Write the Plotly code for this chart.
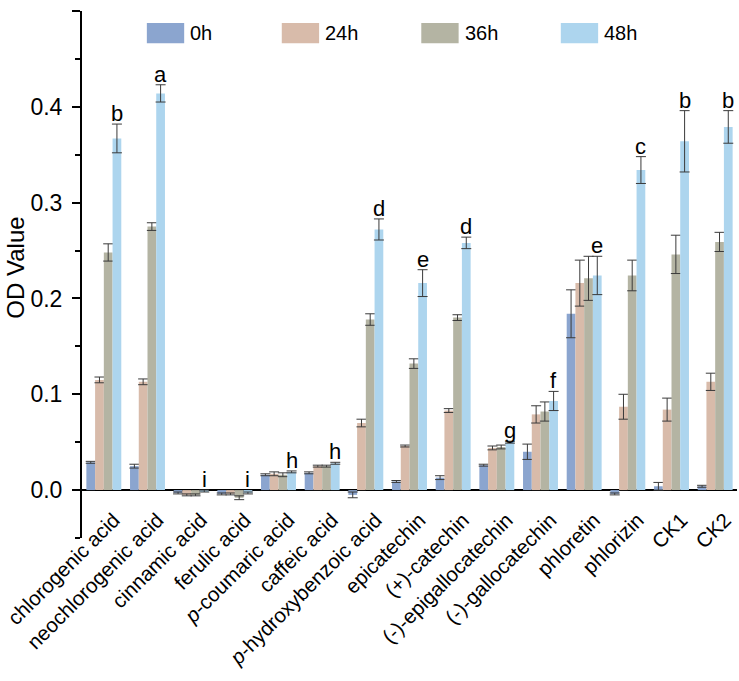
import plotly.graph_objects as go

categories = ["chlorogenic acid", "neochlorogenic acid", "cinnamic acid", "ferulic acid",
              "<i>p</i>-coumaric acid", "caffeic acid", "<i>p</i>-hydroxybenzoic acid",
              "epicatechin", "(+)-catechin", "(-)-epigallocatechin", "(-)-gallocatechin",
              "phloretin", "phlorizin", "CK1", "CK2"]

series_names = ["0h", "24h", "36h", "48h"]

v0h = [0.029, 0.025, -0.003, -0.004, 0.016, 0.018, -0.005, 0.009, 0.013, 0.026, 0.040, 0.184, -0.004, 0.004, 0.004]
e0h = [0.001, 0.002, 0.001, 0.001, 0.001, 0.001, 0.003, 0.001, 0.002, 0.001, 0.008, 0.025, 0.001, 0.004, 0.001]

v24h = [0.115, 0.113, -0.005, -0.004, 0.017, 0.025, 0.070, 0.046, 0.083, 0.044, 0.079, 0.216, 0.087, 0.084, 0.113]
e24h = [0.003, 0.003, 0.001, 0.001, 0.002, 0.001, 0.004, 0.001, 0.002, 0.002, 0.009, 0.024, 0.013, 0.012, 0.009]

v36h = [0.248, 0.275, -0.005, -0.008, 0.016, 0.025, 0.178, 0.132, 0.180, 0.045, 0.082, 0.221, 0.224, 0.246, 0.259]
e36h = [0.009, 0.004, 0.001, 0.002, 0.002, 0.001, 0.006, 0.005, 0.003, 0.002, 0.010, 0.023, 0.016, 0.020, 0.010]

v48h = [0.367, 0.414, -0.001, -0.003, 0.019, 0.028, 0.272, 0.216, 0.258, 0.050, 0.093, 0.224, 0.334, 0.364, 0.379]
e48h = [0.015, 0.009, 0.001, 0.001, 0.001, 0.001, 0.011, 0.014, 0.006, 0.001, 0.010, 0.020, 0.014, 0.032, 0.017]

letters = ["b", "a", "i", "i", "h", "h", "d", "e", "d", "g", "f", "e", "c", "b", "b"]

colors = ["#8BA5CF", "#D8BBAA", "#B4B4A3", "#ADD5EE"]

FONT = "Arial, Liberation Sans, sans-serif"
Y_RANGE = [-0.05, 0.5]

values = [v0h, v24h, v36h, v48h]
errors = [e0h, e24h, e36h, e48h]

fig = go.Figure()
for name, vals, errs, col in zip(series_names, values, errors, colors):
    fig.add_trace(go.Bar(
        x=categories, y=vals, name=name,
        marker=dict(color=col, line=dict(width=0)),
        error_y=dict(type="data", array=errs, visible=True, color="#3a3a3a",
                     thickness=1, width=5),
        showlegend=False,
    ))

# significance letters above the 48h bars
for i, (lab, v, e) in enumerate(zip(letters, v48h, e48h)):
    top = max(v + e, 0.0)
    fig.add_annotation(x=i + 0.3, y=top, xref="x", yref="y", text=lab,
                       showarrow=False, yanchor="bottom", yshift=-4,
                       font=dict(family=FONT, size=22, color="black"))

# custom legend
leg_x = [0.099, 0.305, 0.518, 0.731]
sw_w = 0.057
for name, col, lx in zip(series_names, colors, leg_x):
    fig.add_shape(type="rect", xref="paper", yref="paper",
                  x0=lx, x1=lx + sw_w, y0=0.939, y1=0.977,
                  fillcolor=col, line=dict(width=0))
    fig.add_annotation(xref="paper", yref="paper", x=lx + sw_w + 0.006, y=0.958,
                       text=name, showarrow=False, xanchor="left", yanchor="middle",
                       font=dict(family=FONT, size=20, color="black"))

# y-axis title
fig.add_annotation(xref="paper", yref="paper", x=-0.1015, y=0.512, text="OD Value",
                   textangle=-90, showarrow=False, xanchor="center", yanchor="middle",
                   borderpad=0, font=dict(family=FONT, size=24, color="black"))

zero_pos = (0 - Y_RANGE[0]) / (Y_RANGE[1] - Y_RANGE[0])

fig.update_layout(
    width=739, height=681,
    margin=dict(l=82, r=2, t=11, b=143),
    paper_bgcolor="white", plot_bgcolor="white",
    barmode="group", bargap=0.2, bargroupgap=0.0,
    font=dict(family=FONT, size=20, color="black"),
    xaxis=dict(
        type="category", tickangle=-45, showline=False, ticks="",
        showgrid=False, automargin=False, anchor="free", position=zero_pos,
        ticklabelshift=10, ticklabelstandoff=13,
        tickfont=dict(family=FONT, size=20.5, color="black"),
    ),
    yaxis=dict(
        range=Y_RANGE, tickmode="linear", tick0=0, dtick=0.1, tickformat=".1f",
        showline=True, linecolor="black", linewidth=2, automargin=False,
        ticks="outside", ticklen=8, tickwidth=2, tickcolor="black",
        minor=dict(dtick=0.05, tick0=0, ticks="outside", ticklen=5, tickwidth=2, tickcolor="black"),
        showgrid=False, zeroline=True, zerolinecolor="black", zerolinewidth=2,
        ticklabelstandoff=5,
        tickfont=dict(family=FONT, size=23, color="black"),
    ),
)

fig.write_html("out.html", config={"displayModeBar": False},
               post_script="document.body.style.margin='0';document.body.style.padding='0';")
